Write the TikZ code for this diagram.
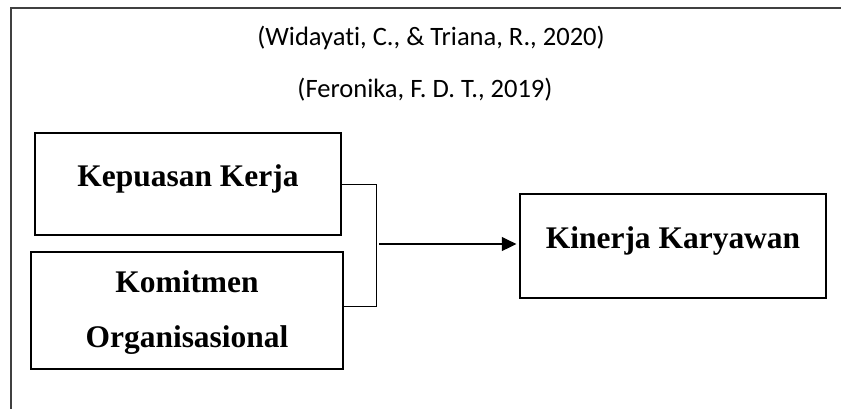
\documentclass[tikz,border=0pt]{standalone}
\usepackage{fontspec}
\setmainfont{Liberation Serif}
\newfontfamily\citefont[Ligatures=NoCommon]{Carlito}
\usetikzlibrary{arrows.meta}

\begin{document}
\begin{tikzpicture}[x=0.75pt,y=-0.75pt]
\tikzstyle{varbox}=[draw,line width=1.5pt,inner sep=0pt,font=\fontsize{23.6}{41.25}\selectfont\bfseries]
\tikzstyle{cite}=[anchor=base,inner sep=0pt,font=\citefont\fontsize{19.9}{24}\selectfont]
\useasboundingbox (0,0) rectangle (841,408);
\clip (0,0) rectangle (841,408);
\fill[white] (0,0) rectangle (841,408);
\draw[line width=0.8pt,black!75] (11,8) rectangle (880,440);
\node[cite] (widayati) at (431,45) {(Widayati, C., \& Triana, R., 2020)};
\node[cite] (feronika) at (425,97) {(Feronika, F. D. T., 2019)};
\node[varbox,minimum width=229.5pt,text height=39.75pt,text depth=36.75pt] (kepuasan) at (188,184) {Kepuasan Kerja};
\node[varbox,minimum width=234pt,align=center,text height=71.25pt,text depth=16.5pt] (komitmen) at (187,310.5) {Komitmen\\Organisasional};
\node[varbox,minimum width=229.5pt,text height=40.5pt,text depth=37.5pt] (kinerja) at (673,246) {Kinerja Karyawan};
\coordinate (jtop) at (376,184);
\coordinate (jbot) at (376,306);
\coordinate (jmid) at (379,244);
\draw[line width=0.75pt] (kepuasan.east) -- (jtop) -- (jbot) -- (jbot -| komitmen.east);
\draw[line width=1.1pt,-{Triangle[length=10.9pt,width=10.5pt]},shorten >=2pt] (jmid) -- (jmid -| kinerja.west);
\end{tikzpicture}
\end{document}
